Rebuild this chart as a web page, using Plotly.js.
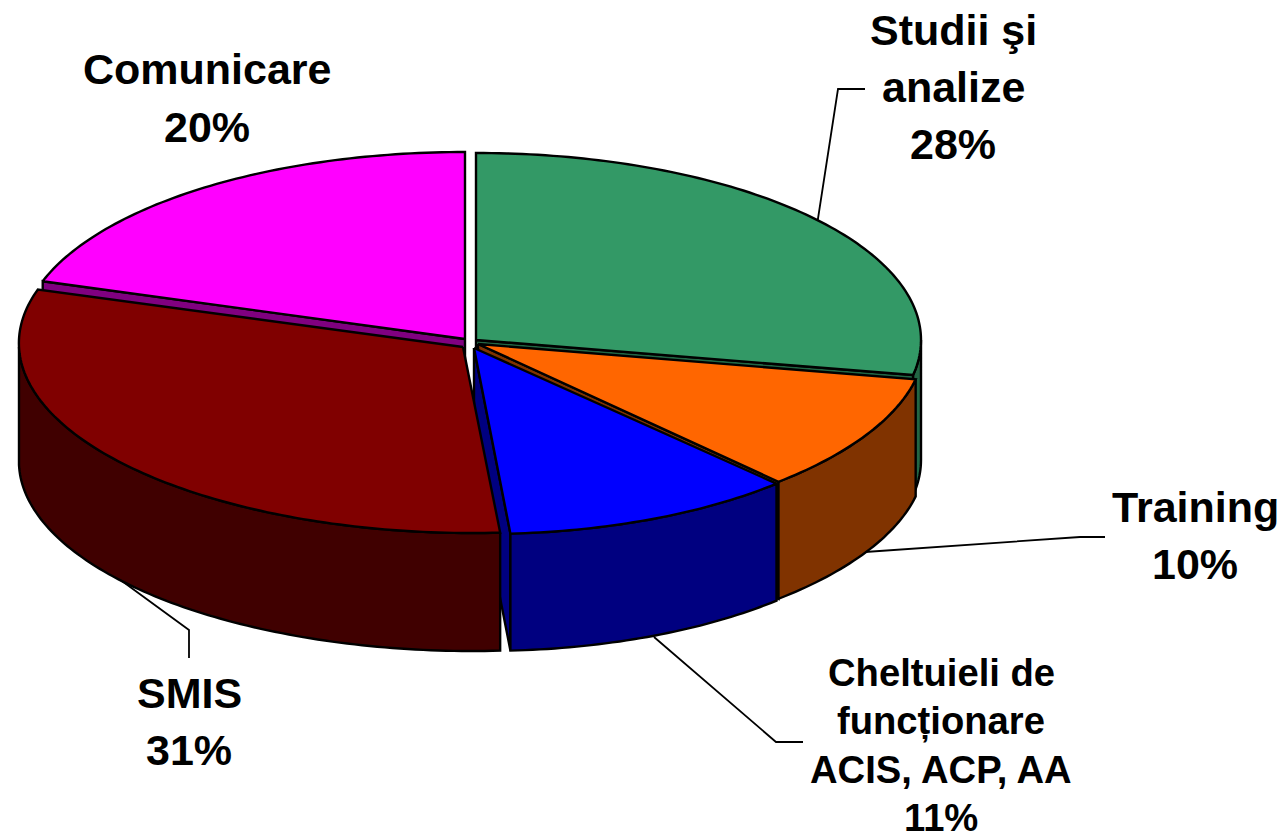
<!DOCTYPE html>
<html>
<head>
<meta charset="utf-8">
<script src="https://cdn.plot.ly/plotly-3.0.1.min.js"></script>
<style>html,body{margin:0;padding:0;background:#fff;overflow:hidden}</style>
</head>
<body>
<div id="chart" style="width:1281px;height:832px"></div>
<script>
// Data
const categories = ["Studii şi analize", "Training", "Cheltuieli de funcționare ACIS, ACP, AA", "SMIS", "Comunicare"];
const values = [28, 10, 11, 31, 20];
const topColors = ["#339966", "#FF6600", "#0000FF", "#800000", "#FF00FF"];
const sideColors = ["#226644", "#803300", "#000080", "#400000", "#800080"];

// Tilted-disc geometry of each slice, in the same order
const centerX = [476, 478, 474, 463, 465];
const centerY = [340, 344, 348, 347, 339];
const radiusX = [445, 447, 432, 444, 444];
const radiusY = [187, 189, 186, 186, 187];
const shear = [0, -0.04, 0.05, 0.05, 0];
const depth = [120, 117, 117, 118, 118];
const drawOrder = [4, 0, 1, 2, 3];

// Label lines (the percentage is appended from values)
const labelLines = [["Studii şi", "analize"], ["Training"], ["Cheltuieli de", "funcționare", "ACIS, ACP, AA"], ["SMIS"], ["Comunicare"]];
const labelX = [953, 1195, 941, 189, 207];
const labelY = [30, 507, 672, 693, 69];
const labelSize = [43, 43, 38.2, 43, 43];
const labelStep = [57, 57, 48.5, 57, 58];

// Leader lines
const leaderX = [[817, 838, 865], [865, 1080, 1105], [654, 776, 803], [100, 189, 189]];
const leaderY = [[225, 89, 89], [552, 537, 537], [637, 742, 742], [565, 630, 658]];

const rad = d => d * Math.PI / 180;
function pt(i, deg, drop) {
  const dy = -radiusY[i] * Math.cos(rad(deg));
  return [centerX[i] + radiusX[i] * Math.sin(rad(deg)) + shear[i] * dy, centerY[i] + dy + (drop || 0)];
}
function poly(points, fill) {
  return {
    type: "scatter", mode: "lines", x: points.map(p => p[0]), y: points.map(p => p[1]),
    fill: "toself", fillcolor: fill, line: {color: "#000", width: 2.4, simplify: false},
    hoverinfo: "skip", showlegend: false
  };
}
function arc(i, a, b, drop) {
  const out = [], n = Math.max(2, Math.ceil(Math.abs(b - a)));
  for (let k = 0; k <= n; k++) out.push(pt(i, a + (b - a) * k / n, drop));
  return out;
}

const total = values.reduce((s, v) => s + v, 0);
const starts = [];
values.reduce((s, v, i) => { starts[i] = s; return s + v; }, 0);
const startAngle = i => starts[i] / total * 360;
const endAngle = i => (starts[i] + values[i]) / total * 360;

const traces = [];
leaderX.forEach((xs, k) => traces.push({
  type: "scatter", mode: "lines", x: xs, y: leaderY[k],
  line: {color: "#000", width: 1.8}, hoverinfo: "skip", showlegend: false
}));

drawOrder.forEach(i => {
  const a = startAngle(i), b = endAngle(i), d = depth[i];
  const apex = [centerX[i], centerY[i]], apexLow = [centerX[i], centerY[i] + d];
  // radial faces that look towards the viewer
  [a, b].forEach(t => {
    const facesViewer = (t === b && t >= 90 && t <= 180) || (t === a && t > 180 && t < 360);
    if (facesViewer) traces.push(poly([apex, pt(i, t), pt(i, t, d), apexLow, apex], sideColors[i]));
  });
  // outer wall, only the front half of the disc
  const wa = Math.max(a, 90), wb = Math.min(b, 270);
  if (wb > wa) traces.push(poly(arc(i, wa, wb, 0).concat(arc(i, wb, wa, d)).concat([pt(i, wa)]), sideColors[i]));
  // top face
  traces.push(poly([apex].concat(arc(i, a, b, 0)).concat([apex]), topColors[i]));
});

const annotations = [];
labelLines.forEach((lines, i) => {
  lines.concat([values[i] + "%"]).forEach((text, k) => annotations.push({
    text, x: labelX[i], y: labelY[i] + k * labelStep[i], xref: "x", yref: "y",
    xanchor: "center", yanchor: "middle", showarrow: false,
    font: {family: "Liberation Sans, Arial, sans-serif", size: labelSize[i], color: "#000", weight: 700}
  }));
});

Plotly.newPlot("chart", traces, {
  width: 1281, height: 832, margin: {l: 0, r: 0, t: 0, b: 0},
  paper_bgcolor: "#fff", plot_bgcolor: "#fff", showlegend: false,
  xaxis: {range: [0, 1281], visible: false, fixedrange: true},
  yaxis: {range: [832, 0], visible: false, fixedrange: true},
  annotations
}, {displayModeBar: false, staticPlot: true});
</script>
</body>
</html>
